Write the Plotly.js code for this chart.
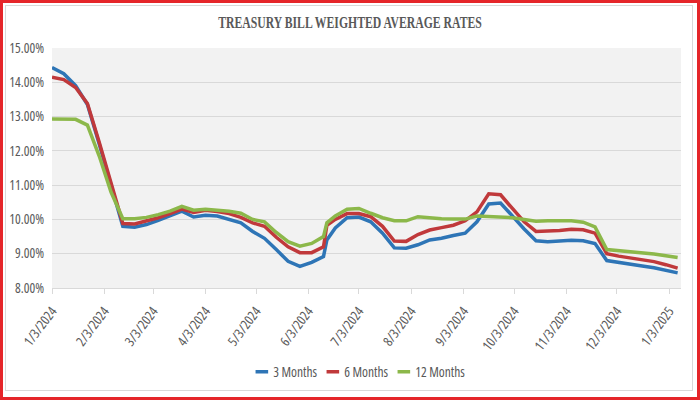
<!DOCTYPE html>
<html>
<head>
<meta charset="utf-8">
<script src="https://cdn.plot.ly/plotly-3.0.1.min.js"></script>
<style>
  html, body { margin: 0; padding: 0; background: #ffffff; }
  #wrap { position: relative; width: 700px; height: 400px; overflow: hidden; }
  #chart { position: absolute; left: 0; top: 0; width: 700px; height: 400px; }
  #inner { position: absolute; left: 5px; top: 5px; width: 688px; height: 386px; border: 1px solid #d9d9d9; pointer-events: none; box-sizing: border-box; }
  #frame { position: absolute; left: 0; top: 0; width: 700px; height: 400px; border: 3px solid #e5252a; box-sizing: border-box; pointer-events: none; }
  #chart .xtick text, #chart .ytick text, #chart .legendtext { font-stretch: 75%; }
  #chart .gtitle { transform-box: fill-box; transform-origin: center; transform: scaleX(0.69); }
  #chart .legendlines path { transform-box: fill-box; transform-origin: right center; transform: scaleX(0.42); }
</style>
</head>
<body>
<div id="wrap">
  <div id="chart"></div>
  <div id="inner"></div>
  <div id="frame"></div>
</div>
<script>
const dates = [
  '2024-01-03','2024-01-10','2024-01-17','2024-01-24','2024-01-31',
  '2024-02-07','2024-02-14','2024-02-21','2024-02-28',
  '2024-03-06','2024-03-13','2024-03-20','2024-03-27',
  '2024-04-03','2024-04-10','2024-04-17','2024-04-24',
  '2024-05-01','2024-05-08','2024-05-15','2024-05-22','2024-05-29',
  '2024-06-05','2024-06-12','2024-06-14','2024-06-19','2024-06-26',
  '2024-07-03','2024-07-10','2024-07-17','2024-07-24','2024-07-31',
  '2024-08-07','2024-08-14','2024-08-21','2024-08-28',
  '2024-09-04','2024-09-11','2024-09-18','2024-09-25',
  '2024-10-02','2024-10-09','2024-10-16','2024-10-23','2024-10-30',
  '2024-11-06','2024-11-13','2024-11-20','2024-11-27',
  '2024-12-04','2024-12-11','2024-12-18','2024-12-25',
  '2025-01-01','2025-01-08'
];

const months3 = [
  14.43, 14.25, 13.90, 13.35, 12.20,
  11.00, 9.80, 9.77, 9.85,
  9.97, 10.10, 10.24, 10.07,
  10.12, 10.10, 10.00, 9.90,
  9.65, 9.45, 9.12, 8.78, 8.63,
  8.75, 8.92, 9.40, 9.75, 10.05,
  10.07, 9.93, 9.60, 9.17, 9.16,
  9.26, 9.40, 9.45, 9.53,
  9.60, 9.93, 10.45, 10.48,
  10.10, 9.72, 9.38, 9.35, 9.37,
  9.39, 9.38, 9.30, 8.80,
  8.74, 8.69, 8.64, 8.59,
  8.52, 8.44
];

const months6 = [
  14.15, 14.08, 13.85, 13.38, 12.25,
  11.05, 9.88, 9.87, 9.95,
  10.05, 10.17, 10.30, 10.20,
  10.27, 10.23, 10.17, 10.06,
  9.90, 9.80, 9.48, 9.20, 9.03,
  9.03, 9.20, 9.83, 10.00, 10.17,
  10.17, 10.08, 9.80, 9.37, 9.36,
  9.56, 9.69, 9.76, 9.83,
  9.96, 10.22, 10.75, 10.72,
  10.32, 9.93, 9.65, 9.66, 9.68,
  9.71, 9.70, 9.60, 9.00,
  8.93, 8.88, 8.83, 8.77,
  8.68, 8.58
];

const months12 = [
  12.93, 12.93, 12.92, 12.75, 11.85,
  10.80, 10.02, 10.02, 10.06,
  10.14, 10.24, 10.38, 10.27,
  10.30, 10.28, 10.24, 10.18,
  10.00, 9.93, 9.62, 9.35, 9.22,
  9.30, 9.50, 9.90, 10.10, 10.30,
  10.32, 10.18, 10.05, 9.96, 9.96,
  10.08, 10.04, 10.02, 10.01,
  10.01, 10.10, 10.08, 10.08,
  10.05, 10.00, 9.95, 9.96, 9.96,
  9.96, 9.92, 9.78, 9.12,
  9.09, 9.06, 9.02, 8.99,
  8.94, 8.89
];

const seriesNames = ['3 Months', '6 Months', '12 Months'];
const seriesColors = ['#2e75b6', '#c0393b', '#8cb84a'];
const legendWidths = [26, 26, 60];

const tickDates = [
  '2024-01-03','2024-02-03','2024-03-03','2024-04-03','2024-05-03','2024-06-03',
  '2024-07-03','2024-08-03','2024-09-03','2024-10-03','2024-11-03','2024-12-03','2025-01-03'
];
const tickLabels = [
  '1/3/2024','2/3/2024','3/3/2024','4/3/2024','5/3/2024','6/3/2024',
  '7/3/2024','8/3/2024','9/3/2024','10/3/2024','11/3/2024','12/3/2024','1/3/2025'
];
const yTicks = [8, 9, 10, 11, 12, 13, 14, 15];
const yTickLabels = ['8.00%', '9.00%', '10.00%', '11.00%', '12.00%', '13.00%', '14.00%', '15.00%'];

const labelFont = 'Open Sans, Roboto, Liberation Sans, sans-serif';

const allY = [months3, months6, months12];
const traces = allY.map((ys, i) => ({
  type: 'scatter',
  mode: 'lines',
  x: dates,
  y: ys,
  name: seriesNames[i],
  legendwidth: legendWidths[i],
  line: { color: seriesColors[i], width: 3.5 }
}));

const layout = {
  width: 700,
  height: 400,
  margin: { l: 52, r: 19, t: 48, b: 110 },
  paper_bgcolor: 'rgba(0,0,0,0)',
  plot_bgcolor: '#f2f2f2',
  title: {
    text: 'TREASURY BILL WEIGHTED AVERAGE RATES',
    x: 0.5, xref: 'container', xanchor: 'center',
    y: 0.945, yref: 'container', yanchor: 'middle',
    font: { family: 'Liberation Serif, serif', size: 17, color: '#595959', weight: 'bold' }
  },
  xaxis: {
    type: 'date',
    range: ['2024-01-03', '2025-01-10'],
    tickvals: tickDates,
    ticktext: tickLabels,
    tickangle: -53,
    ticks: 'outside',
    ticklen: 5,
    tickcolor: '#d9d9d9',
    ticklabelstandoff: 4,
    showgrid: false,
    showline: true,
    linecolor: '#d9d9d9',
    linewidth: 1,
    zeroline: false,
    tickfont: { family: labelFont, size: 13.5, color: '#595959' }
  },
  yaxis: {
    range: [8, 15],
    tickvals: yTicks,
    ticktext: yTickLabels,
    showgrid: true,
    gridcolor: '#d9d9d9',
    gridwidth: 1,
    zeroline: false,
    showline: false,
    ticks: '',
    ticklabelstandoff: 7,
    tickfont: { family: labelFont, size: 13.5, color: '#595959' }
  },
  showlegend: true,
  legend: {
    orientation: 'h',
    x: 0.288, xanchor: 'left',
    y: -0.35, yanchor: 'middle',
    font: { family: labelFont, size: 13.5, color: '#595959' },
    bgcolor: 'rgba(0,0,0,0)',
    itemwidth: 30,
    entrywidth: 26,
    entrywidthmode: 'pixels',
    tracegroupgap: 0
  }
};

Plotly.newPlot('chart', traces, layout, { displayModeBar: false, staticPlot: true });
</script>
</body>
</html>
